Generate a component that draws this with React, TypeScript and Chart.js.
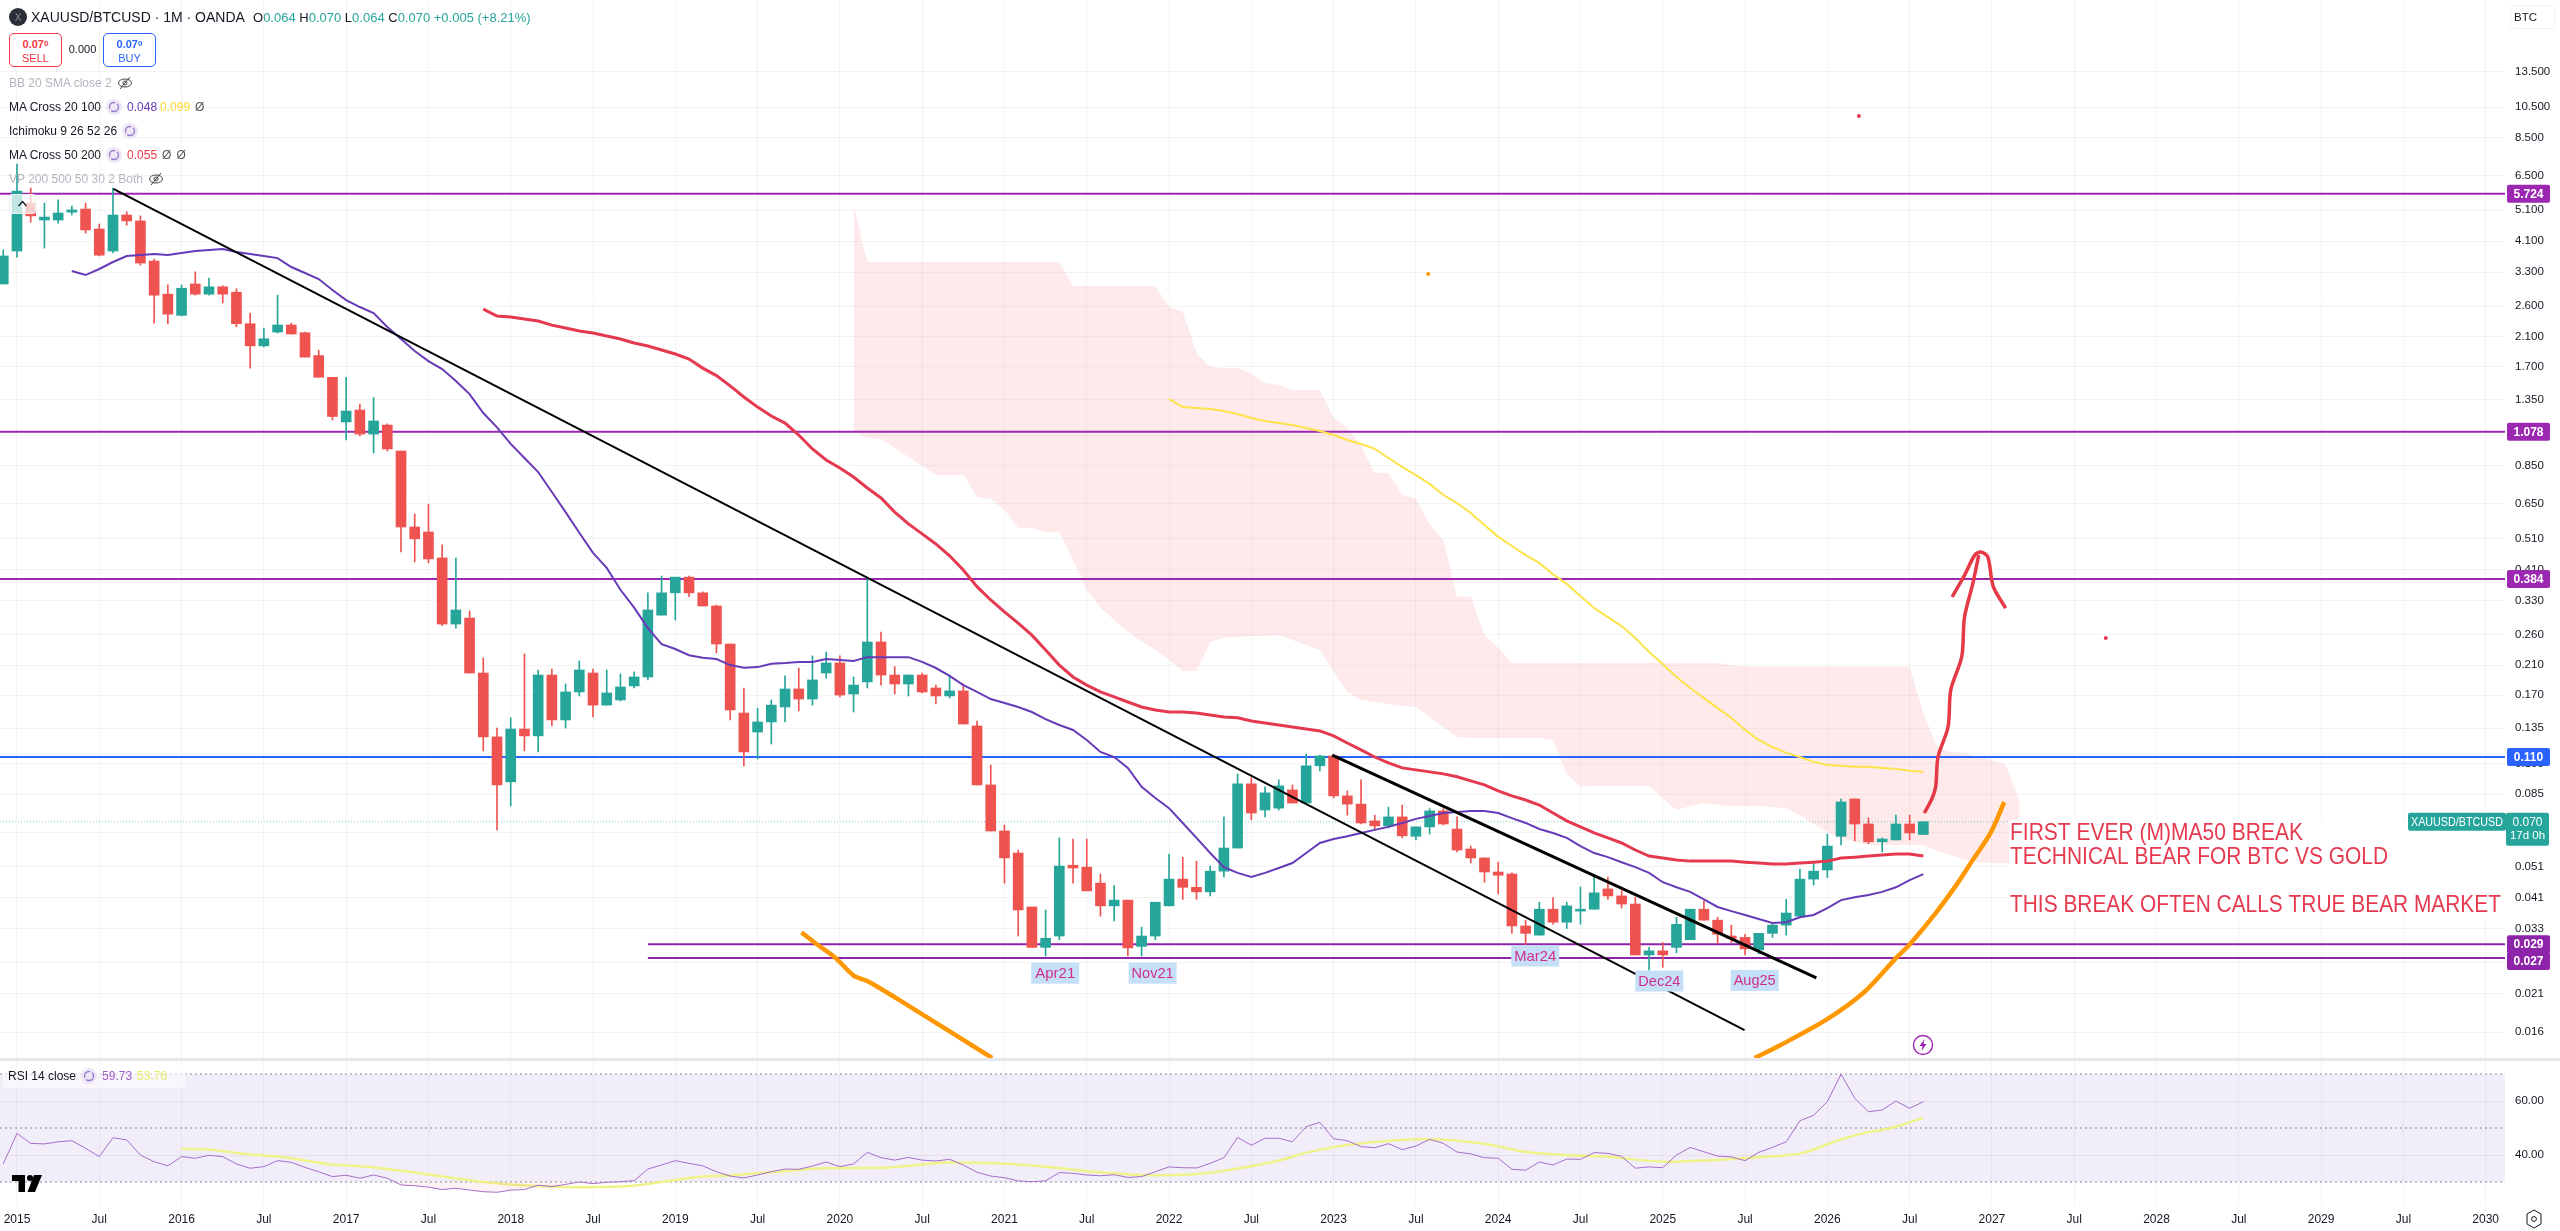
import React, { useEffect, useRef } from "react";
import { Chart, registerables } from "chart.js";

Chart.register(...registerables);

// Months are counted from January 2015 (0 = 2015-01).
const firstCandleMonth = -1;
const opens = [3.04,3.83,5.36,4.76,4.76,5.03,5.14,4.47,3.83,4.93,4.73,3.57,2.83,2.44,3.04,2.83,2.98,2.87,2.30,1.97,2.17,2.28,2.16,1.84,1.58,1.155,1.256,1.061,1.13,0.942,0.553,0.534,0.445,0.280,0.292,0.1986,0.1269,0.0926,0.1341,0.1278,0.1958,0.1429,0.1739,0.1986,0.1586,0.1644,0.1814,0.1932,0.298,0.3485,0.389,0.3485,0.3178,0.2434,0.15,0.1313,0.1409,0.1565,0.1776,0.1655,0.1986,0.2131,0.1714,0.1866,0.2469,0.1958,0.1839,0.1958,0.1788,0.1691,0.1752,0.137,0.0906,0.0656,0.0562,0.0385,0.029,0.0314,0.0516,0.0509,0.0455,0.0388,0.0404,0.0292,0.0314,0.0388,0.0468,0.0442,0.0428,0.0495,0.0582,0.0913,0.076,0.077,0.0875,0.0798,0.1036,0.111,0.0839,0.0792,0.0704,0.068,0.0724,0.0632,0.0675,0.0755,0.0665,0.0578,0.0543,0.0492,0.0485,0.0337,0.0316,0.0379,0.0346,0.0374,0.0379,0.0437,0.0416,0.0393,0.0275,0.0283,0.029,0.0306,0.0379,0.0351,0.0314,0.0311,0.0285,0.032,0.0339,0.0361,0.0468,0.0499,0.0632,0.0821,0.0689,0.0608,0.0616,0.0689,0.064];
const highs = [3.86,7.05,5.96,5.36,5.48,5.25,5.36,4.63,5.96,5.04,4.9,3.62,3.02,3.02,3.31,3.17,3.0,2.94,2.48,2.23,2.81,2.31,2.17,1.91,1.58,1.58,1.31,1.37,1.14,0.942,0.606,0.649,0.488,0.445,0.307,0.2207,0.1351,0.1451,0.227,0.2029,0.2043,0.1839,0.2162,0.2043,0.2029,0.1972,0.2001,0.3485,0.392,0.389,0.392,0.351,0.32,0.2434,0.1788,0.1553,0.1644,0.1946,0.2057,0.2239,0.2302,0.2239,0.1932,0.389,0.2648,0.2077,0.1958,0.1986,0.1825,0.1958,0.1839,0.1419,0.1042,0.0684,0.0574,0.0385,0.0377,0.0625,0.062,0.062,0.0485,0.0447,0.0404,0.0334,0.0398,0.0558,0.0546,0.0531,0.0513,0.0724,0.0979,0.0952,0.0894,0.0939,0.0906,0.1126,0.1117,0.1117,0.0869,0.0939,0.0733,0.0776,0.0787,0.0675,0.0767,0.0767,0.0724,0.059,0.0543,0.0527,0.0489,0.0351,0.0398,0.0411,0.0398,0.0443,0.0475,0.0475,0.0431,0.0412,0.029,0.03,0.0358,0.0379,0.0401,0.0358,0.0339,0.0318,0.032,0.0344,0.0406,0.0502,0.0524,0.0642,0.0821,0.0821,0.0719,0.0625,0.0733,0.0733,0.07];
const lows = [3.04,3.67,4.69,3.91,4.66,4.93,4.34,3.7,3.78,4.59,3.47,2.31,2.3,2.43,2.81,2.81,2.66,2.25,1.685,1.954,2.155,2.139,1.821,1.583,1.171,1.018,1.047,0.929,0.942,0.464,0.433,0.43,0.277,0.272,0.1986,0.115,0.0661,0.0782,0.115,0.1142,0.137,0.135,0.1691,0.146,0.1586,0.1633,0.1788,0.1892,0.298,0.288,0.339,0.3178,0.2286,0.1429,0.1036,0.1087,0.1207,0.1409,0.1522,0.1586,0.1917,0.1679,0.1511,0.1788,0.1825,0.1714,0.1691,0.1727,0.1598,0.1666,0.1389,0.0906,0.0656,0.0455,0.0314,0.029,0.0273,0.0306,0.0455,0.0431,0.0361,0.0349,0.0273,0.0273,0.0306,0.0388,0.0406,0.0406,0.0416,0.0475,0.0582,0.0709,0.0724,0.076,0.0798,0.0798,0.1,0.0827,0.0733,0.0689,0.0661,0.067,0.0625,0.0616,0.0642,0.0684,0.0566,0.0524,0.0458,0.0422,0.032,0.0296,0.0316,0.0341,0.0331,0.0341,0.0379,0.0406,0.0382,0.0275,0.0247,0.0252,0.0279,0.0306,0.0351,0.0298,0.03,0.0275,0.0277,0.0311,0.0316,0.0361,0.0449,0.0473,0.0595,0.0612,0.06,0.0566,0.0616,0.0616,0.064];
const closes = [3.7,5.83,4.9,4.86,5.0,5.11,4.44,3.72,4.93,4.73,3.52,2.81,2.46,2.95,2.83,2.98,2.83,2.3,1.97,2.07,2.28,2.14,1.82,1.58,1.2,1.247,1.061,1.163,0.956,0.553,0.509,0.442,0.28,0.309,0.1986,0.1269,0.0906,0.1341,0.1278,0.1958,0.1429,0.1739,0.2029,0.1586,0.1727,0.1801,0.1932,0.309,0.3485,0.389,0.3485,0.3178,0.2434,0.1533,0.1142,0.1409,0.1586,0.1776,0.1655,0.1892,0.2131,0.1702,0.1825,0.2469,0.1958,0.1839,0.1958,0.1739,0.1691,0.1752,0.1389,0.0906,0.0656,0.0543,0.0377,0.029,0.0309,0.0513,0.0506,0.0431,0.0388,0.0404,0.0289,0.0314,0.0398,0.0468,0.0442,0.0428,0.0495,0.0582,0.0913,0.0744,0.0857,0.09,0.0798,0.1036,0.111,0.0839,0.0792,0.0694,0.068,0.0724,0.0634,0.0675,0.0755,0.0689,0.0574,0.0543,0.0492,0.0481,0.0337,0.032,0.0379,0.0346,0.0388,0.0379,0.0425,0.0416,0.0393,0.0275,0.0283,0.0275,0.0341,0.0379,0.0351,0.0318,0.0309,0.0287,0.032,0.0339,0.0369,0.0468,0.0495,0.059,0.0804,0.0689,0.0608,0.062,0.0689,0.0647,0.07];

const ma20Start = 4;
const ma20 = [3.33,3.236,3.377,3.546,3.699,3.722,3.749,3.722,3.776,3.83,3.857,3.886,3.803,3.749,3.699,3.645,3.424,3.283,3.148,2.914,2.716,2.586,2.479,2.248,2.067,1.9,1.77,1.674,1.539,1.404,1.23,1.112,0.99,0.897,0.813,0.707,0.614,0.531,0.461,0.415,0.356,0.314,0.272,0.243,0.235,0.225,0.221,0.219,0.21,0.206,0.207,0.212,0.213,0.2147,0.2147,0.219,0.2177,0.2162,0.222,0.222,0.222,0.222,0.2147,0.2057,0.1946,0.1825,0.1739,0.1655,0.161,0.1565,0.1511,0.1438,0.1379,0.1332,0.1242,0.1142,0.1102,0.1021,0.0894,0.0827,0.077,0.0694,0.0625,0.0562,0.0509,0.0489,0.0475,0.0489,0.0506,0.0524,0.0562,0.0603,0.062,0.0632,0.0647,0.0661,0.0675,0.0694,0.0714,0.0729,0.0744,0.0749,0.0755,0.0755,0.0744,0.0718,0.0694,0.0665,0.0647,0.0625,0.059,0.0562,0.0546,0.0527,0.0509,0.0489,0.0458,0.0442,0.0428,0.0406,0.0385,0.0374,0.0364,0.0354,0.0344,0.0346,0.0358,0.0364,0.0382,0.0404,0.0412,0.0419,0.0428,0.0442,0.0465,0.0485];
const ma50Start = 34;
const ma50 = [2.549,2.428,2.411,2.377,2.345,2.278,2.231,2.186,2.155,2.11,2.067,2.01,1.968,1.913,1.86,1.796,1.685,1.599,1.488,1.376,1.282,1.204,1.146,1.054,0.956,0.885,0.836,0.785,0.727,0.678,0.614,0.565,0.527,0.491,0.452,0.409,0.364,0.3314,0.305,0.282,0.259,0.2335,0.21,0.1932,0.1825,0.1739,0.1679,0.1621,0.1565,0.1533,0.1511,0.1511,0.15,0.1479,0.146,0.1451,0.1419,0.1399,0.1379,0.136,0.1341,0.1323,0.1278,0.1216,0.1158,0.1102,0.1057,0.1021,0.1007,0.0993,0.0979,0.0959,0.0932,0.0906,0.0869,0.0839,0.0815,0.0787,0.0744,0.0704,0.0675,0.0647,0.0625,0.0603,0.0574,0.055,0.0543,0.0535,0.0531,0.0531,0.0531,0.0531,0.0527,0.0524,0.052,0.052,0.0524,0.0527,0.0531,0.0543,0.0546,0.055,0.0554,0.0558,0.0558,0.055];
const ma100Start = 84;
const ma100 = [1.357,1.282,1.273,1.265,1.247,1.221,1.187,1.163,1.146,1.13,1.107,1.084,1.054,1.018,0.99,0.956,0.897,0.843,0.796,0.748,0.692,0.654,0.61,0.561,0.516,0.484,0.454,0.43,0.397,0.371,0.341,0.3132,0.294,0.276,0.254,0.2302,0.2116,0.1932,0.1788,0.1666,0.1553,0.1451,0.1332,0.1242,0.1182,0.1134,0.1102,0.1065,0.1042,0.1036,0.1029,0.1029,0.1021,0.1014,0.1,0.0993];

const cloudStart = 61;
const cloudTop = [5.285,3.546,3.546,3.546,3.546,3.546,3.546,3.546,3.546,3.546,3.546,3.546,3.546,3.546,3.546,3.546,2.998,2.998,2.998,2.998,2.998,2.998,2.998,2.586,2.498,1.873,1.702,1.685,1.685,1.616,1.517,1.496,1.445,1.445,1.445,1.187,1.107,0.976,0.808,0.808,0.693,0.674,0.564,0.505,0.339,0.339,0.259,0.237,0.2131,0.2131,0.2131,0.2131,0.2131,0.2131,0.2131,0.2131,0.2131,0.2131,0.2131,0.2131,0.2131,0.2131,0.2131,0.2131,0.21,0.2077,0.2077,0.2077,0.2077,0.2077,0.2077,0.2077,0.2077,0.2077,0.2077,0.2077,0.2077,0.2077,0.15,0.1182,0.1142,0.1134,0.1102,0.108,0.1042,0.0815];
const cloudBottom = [1.084,1.032,1.025,0.963,0.903,0.849,0.796,0.796,0.796,0.683,0.673,0.623,0.549,0.549,0.534,0.534,0.439,0.356,0.3132,0.288,0.2648,0.2487,0.2335,0.2177,0.2015,0.2015,0.2469,0.2546,0.2557,0.2575,0.2575,0.2592,0.2504,0.2417,0.2335,0.2001,0.1739,0.1644,0.1621,0.1598,0.1576,0.1565,0.146,0.136,0.1269,0.126,0.126,0.126,0.126,0.126,0.126,0.1242,0.0979,0.0894,0.09,0.09,0.09,0.09,0.09,0.0827,0.076,0.0782,0.0798,0.0787,0.0782,0.0782,0.0782,0.0776,0.077,0.0733,0.0689,0.0652,0.0625,0.0608,0.0595,0.0595,0.0595,0.0595,0.0595,0.057,0.0554,0.0535,0.0527,0.0524,0.0524,0.0524];

const rsiStart = -1;
const rsi = [36.7,48.0,44.3,44.1,44.9,45.3,42.5,39.4,46.4,45.6,40.0,37.5,36.0,39.4,38.8,39.9,39.4,36.7,35.1,35.7,37.9,37.3,35.4,33.8,32.0,32.5,31.4,32.6,31.4,28.9,28.6,28.1,27.2,27.7,27.0,26.4,26.2,27.0,27.2,28.8,28.3,29.1,30.0,29.4,29.9,30.1,30.5,34.8,36.3,37.9,36.9,36.0,33.8,32.2,31.5,32.6,33.8,34.8,34.7,35.9,37.4,35.7,36.7,41.0,39.0,38.1,39.1,38.1,37.8,38.4,36.3,33.6,32.2,31.6,30.4,30.1,30.4,33.5,33.2,32.6,32.3,32.7,31.7,32.0,33.8,35.6,35.3,35.2,36.9,39.0,46.5,43.6,46.2,46.2,44.9,50.5,52.1,46.0,45.3,43.1,42.7,44.2,42.0,43.3,45.8,44.3,41.1,40.4,39.0,38.8,34.7,34.4,37.4,36.3,38.5,38.4,40.9,40.6,39.5,35.1,35.6,35.3,40.0,42.8,41.2,39.6,39.3,37.9,41.0,42.8,44.9,52.7,54.7,59.8,69.9,61.0,56.0,56.7,60.0,57.3,59.73];
const rsiMaMonths = [12,14.2,16.6,19.6,22.6,26.1,29.7,33.9,36.8,40.4,44,46.3,49.3,52.3,55.3,58.8,63.6,67.8,71.3,74.9,78.5,82,85.6,88,92,93.8,96.2,99.2,102.2,105.1,107.5,109.9,112.9,115.8,120,123.6,127.7,130.1,132.5,134.3,136.7,139];
const rsiMaValues = [42.3,41.9,40.4,39.1,36.7,35.4,33.0,30.1,28.8,28.1,28.3,29.5,31.7,32.6,33.8,35.1,35.4,37.2,36.9,35.7,33.8,32.6,32.8,34.2,37.9,40.6,43.1,44.9,45.8,45.3,43.7,41.2,40,39.4,37.5,38.1,39.4,40.6,44.9,47.7,50.1,53.76];

const priceTicks = [13.5,10.5,8.5,6.5,5.1,4.1,3.3,2.6,2.1,1.7,1.35,1.05,0.85,0.65,0.51,0.41,0.33,0.26,0.21,0.17,0.135,0.105,0.085,0.065,0.051,0.041,0.033,0.026,0.021,0.016];
const rsiTicks = [60,40];
const monthTicks = [0,6,12,18,24,30,36,42,48,54,60,66,72,78,84,90,96,102,108,114,120,126,132,138,144,150,156,162,168,174,180];

const axisMonths = [-1.239, 181.41];
const priceRange = [0.01335, 22.27];
const rsiRange = [21.48, 75.93];

const fullLevels = [5.724, 1.078, 0.384];
const blueLevel = 0.1102;
const lowLevels = [0.02965, 0.0269];
const lowLevelMonths = [46, 181.41];
const lastPrice = 0.07;

const longTrendMonths = [7.03, 125.96];
const longTrendValues = [5.92, 0.01624];
const shortTrendMonths = [95.9, 131.2];
const shortTrendValues = [0.1117, 0.0234];

const orangeLeftMonths = [57.2,58.2,59.7,61,62.1,64.2,71.1];
const orangeLeftValues = [0.0322,0.0299,0.0269,0.0238,0.0228,0.0202,0.01335];
const orangeRightMonths = [126.7,128.6,131.9,134.7,137,138,139.9,141.5,142.6,143.9,144.9];
const orangeRightValues = [0.01335,0.01463,0.01743,0.0212,0.0269,0.0296,0.0369,0.0455,0.0535,0.0647,0.0804];
const arrowStemMonths = [139.07,139.65,139.9,140.07,140.8,141,141.8,142,142.6,143.04];
const arrowStemValues = [0.0744,0.0827,0.0894,0.1102,0.136,0.1764,0.2227,0.2936,0.371,0.454];
const arrowHeadMonths = [141.1,142,142.75,143.2,143.7,144.1,145];
const arrowHeadValues = [0.339,0.394,0.454,0.464,0.448,0.364,0.3132];

const dotMonths = [134.3, 102.9, 152.3];
const dotValues = [9.87, 3.259, 0.2538];
const dotColors = ["#e53950", "#ff9800", "#e53950"];

const pivotLabels = ["Apr21", "Nov21", "Mar24", "Dec24", "Aug25"];
const pivotMonths = [75.7, 82.8, 110.7, 119.75, 126.7];
const pivotValues = [0.0242, 0.0242, 0.0273, 0.0229, 0.023];

const priceTags = ["5.724", "1.078", "0.384", "0.110", "0.029", "0.027"];
const priceTagValues = [5.724, 1.078, 0.384, 0.1102, 0.02965, 0.0269];
const priceTagShift = [0, 0, 0, 0, 0, 3];
const priceTagColors = ["#9c27b0", "#9c27b0", "#9c27b0", "#2962ff", "#8e24aa", "#8e24aa"];

const noteLines = ["FIRST EVER (M)MA50 BREAK", "TECHNICAL BEAR FOR BTC VS GOLD", "THIS BREAK OFTEN CALLS TRUE BEAR MARKET"];

const UP = "#26a69a";
const DOWN = "#ef5350";
const FONT = '"Liberation Sans", Arial, sans-serif';

const pts = (xs: number[], ys: number[]) => xs.map((x, k) => ({ x, y: ys[k] }));
const seq = (start: number, n: number) => Array.from({ length: n }, (_, k) => start + k);

function line(label: string, xs: number[], ys: number[], color: string, width: number, order: number, extra: any = {}) {
  return {
    type: "line" as const,
    label,
    data: pts(xs, ys),
    borderColor: color,
    backgroundColor: color,
    borderWidth: width,
    pointRadius: 0,
    fill: false,
    tension: 0,
    order,
    yAxisID: "y",
    ...extra,
  };
}

function candleSets() {
  const idx = opens.map((_, k) => k);
  const up = idx.filter((k) => closes[k] >= opens[k]);
  const down = idx.filter((k) => closes[k] < opens[k]);
  const month = (k: number) => firstCandleMonth + k;
  const bar = (label: string, list: number[], color: string, thick: number, low: number[], high: number[], order: number) => ({
    type: "bar" as const,
    label,
    data: list.map((k) => ({ x: month(k), y: [low[k], high[k]] })),
    backgroundColor: color,
    borderWidth: 0,
    barThickness: thick,
    grouped: false,
    minBarLength: 1,
    order,
    yAxisID: "y",
  });
  const bodyLow = closes.map((c, k) => Math.min(c, opens[k]));
  const bodyHigh = closes.map((c, k) => Math.max(c, opens[k]));
  return [
    bar("up wick", up, UP, 1, lows, highs, 11),
    bar("down wick", down, DOWN, 1, lows, highs, 11),
    bar("up body", up, UP, 10, bodyLow, bodyHigh, 10),
    bar("down body", down, DOWN, 10, bodyLow, bodyHigh, 10),
  ];
}

const decorPlugin = {
  id: "paneDecor",
  afterDatasetsDraw(chart: any) {
    const { ctx, scales } = chart;
    const x = scales.x;
    const y = scales.y;
    const right = chart.chartArea.right;
    ctx.save();

    // pane separator
    ctx.fillStyle = "#e6e7ec";
    ctx.fillRect(0, y.bottom, chart.width, 3);

    // note with its white background
    ctx.fillStyle = "#ffffff";
    ctx.fillRect(2009, 820, 495, 96);
    ctx.fillStyle = "#e5394f";
    ctx.font = `24px ${FONT}`;
    ctx.textBaseline = "alphabetic";
    ctx.textAlign = "left";
    ctx.fillText(noteLines[0], 2010, 840, 293);
    ctx.fillText(noteLines[1], 2010, 864, 378);
    ctx.fillText(noteLines[2], 2010, 912, 491);

    // pivot date labels
    pivotLabels.forEach((t, k) => {
      const px = x.getPixelForValue(pivotMonths[k]);
      const py = y.getPixelForValue(pivotValues[k]);
      ctx.fillStyle = "#c5dff7";
      ctx.fillRect(px - 24, py - 10.5, 48, 21);
      ctx.fillStyle = "#d0308a";
      ctx.font = `15px ${FONT}`;
      ctx.textAlign = "center";
      ctx.textBaseline = "middle";
      ctx.fillText(t, px, py + 0.5, 42);
    });

    // price tags on the axis
    ctx.textBaseline = "middle";
    ctx.textAlign = "center";
    priceTags.forEach((t, k) => {
      const py = y.getPixelForValue(priceTagValues[k]) + priceTagShift[k];
      ctx.fillStyle = priceTagColors[k];
      ctx.beginPath();
      ctx.roundRect(right + 2, py - 9, 43, 18, 2);
      ctx.fill();
      ctx.fillStyle = "#ffffff";
      ctx.font = `bold 12px ${FONT}`;
      ctx.fillText(t, right + 23.5, py + 0.5);
    });

    // last-price tags
    const ly = y.getPixelForValue(lastPrice);
    ctx.fillStyle = UP;
    ctx.beginPath();
    ctx.roundRect(right - 97, ly - 9, 98, 18, 2);
    ctx.fill();
    ctx.beginPath();
    ctx.roundRect(right + 1, ly - 9, 43, 33, 2);
    ctx.fill();
    ctx.fillStyle = "#ffffff";
    ctx.font = `12px ${FONT}`;
    ctx.fillText("XAUUSD/BTCUSD", right - 48, ly + 0.5, 92);
    ctx.fillText("0.070", right + 22.5, ly + 0.5);
    ctx.font = `11.5px ${FONT}`;
    ctx.fillText("17d 0h", right + 22.5, ly + 14.5, 38);
    ctx.restore();
  },
};

function Legend() {
  const row = (top: number, color = "#131722"): React.CSSProperties => ({
    position: "absolute",
    left: 9,
    top: top - 8,
    height: 16,
    lineHeight: "16px",
    fontSize: 12,
    color,
    whiteSpace: "nowrap",
    display: "flex",
    alignItems: "center",
    gap: 5,
  });
  const spin = (
    <svg width="16" height="16" viewBox="0 0 16 16">
      <circle cx="8" cy="8" r="8" fill="#ede7f6" />
      <circle cx="8" cy="8" r="4.5" fill="none" stroke="#9575cd" strokeWidth="1.3" strokeDasharray="10 2" />
    </svg>
  );
  const eye = (
    <svg width="16" height="14" viewBox="0 0 16 14">
      <ellipse cx="8" cy="7" rx="6.5" ry="4" fill="none" stroke="#444" strokeWidth="1" />
      <circle cx="8" cy="7" r="2" fill="none" stroke="#444" strokeWidth="1" />
      <line x1="3" y1="13" x2="13" y2="1" stroke="#444" strokeWidth="1" />
    </svg>
  );
  const box = (left: number, color: string): React.CSSProperties => ({
    position: "absolute",
    left,
    top: 33,
    width: 53,
    height: 34,
    border: `1px solid ${color}`,
    borderRadius: 5,
    color,
    textAlign: "center",
    fontSize: 11,
    lineHeight: "14px",
    background: "#fff",
    boxSizing: "border-box",
    paddingTop: 3,
  });
  return (
    <div style={{ position: "absolute", left: 0, top: 0, fontFamily: FONT }}>
      <svg style={{ position: "absolute", left: 9, top: 8 }} width="18" height="18" viewBox="0 0 18 18">
        <circle cx="9" cy="9" r="9" fill="#2a2e39" />
        <text x="9" y="12.5" textAnchor="middle" fontSize="10" fill="#8a8e99" fontFamily={FONT}>X</text>
      </svg>
      <div style={{ position: "absolute", left: 31, top: 9, fontSize: 14, lineHeight: "17px", color: "#131722", whiteSpace: "nowrap" }}>
        XAUUSD/BTCUSD · 1M · OANDA
      </div>
      <div style={{ position: "absolute", left: 253, top: 9, fontSize: 13, lineHeight: "17px", color: UP, whiteSpace: "nowrap" }}>
        <span style={{ color: "#131722" }}>O</span>0.064 <span style={{ color: "#131722" }}>H</span>0.070{" "}
        <span style={{ color: "#131722" }}>L</span>0.064 <span style={{ color: "#131722" }}>C</span>0.070 +0.005 (+8.21%)
      </div>
      <div style={box(9, "#f23645")}>
        <b>0.07<span style={{ fontSize: 8, verticalAlign: 2 }}>0</span></b>
        <br />SELL
      </div>
      <div style={{ position: "absolute", left: 62, width: 41, top: 43, textAlign: "center", fontSize: 11, color: "#131722" }}>0.000</div>
      <div style={box(103, "#2962ff")}>
        <b>0.07<span style={{ fontSize: 8, verticalAlign: 2 }}>0</span></b>
        <br />BUY
      </div>
      <div style={row(83, "#b2b5be")}>BB 20 SMA close 2 {eye}</div>
      <div style={row(107)}>
        MA Cross 20 100 {spin}
        <span style={{ color: "#673ab7" }}>0.048</span>
        <span style={{ color: "#fdd835", marginLeft: -2 }}>0.099</span>
        <span style={{ color: "#555" }}>Ø</span>
      </div>
      <div style={row(131)}>Ichimoku 9 26 52 26 {spin}</div>
      <div style={row(155)}>
        MA Cross 50 200 {spin}
        <span style={{ color: "#f23645" }}>0.055</span>
        <span style={{ color: "#555" }}>Ø</span>
        <span style={{ color: "#555" }}>Ø</span>
      </div>
      <div style={row(179, "#b2b5be")}>VP 200 500 50 30 2 Both {eye}</div>
      <div style={{ position: "absolute", left: 9, top: 194, width: 27, height: 20, border: "1px solid #eceef2", borderRadius: 3, background: "rgba(255,255,255,0.72)", boxSizing: "border-box" }}>
        <svg width="25" height="18" viewBox="0 0 25 18">
          <path d="M8.5 11 L12.5 6.5 L16.5 11" fill="none" stroke="#131722" strokeWidth="1.3" />
        </svg>
      </div>

      <div style={{ position: "absolute", left: 3, top: 1066, width: 183, height: 22, background: "rgba(255,255,255,0.55)", borderRadius: 3 }} />
      <div style={{ position: "absolute", left: 8, top: 1068, height: 16, lineHeight: "16px", fontSize: 12, color: "#131722", whiteSpace: "nowrap", display: "flex", alignItems: "center", gap: 5 }}>
        RSI 14 close {spin}
        <span style={{ color: "#a25ac7" }}>59.73</span>
        <span style={{ color: "#e6ee6a" }}>53.76</span>
      </div>

      <div style={{ position: "absolute", left: 2510, top: 5, width: 45, height: 24, border: "1px solid #f0f3fa", borderRadius: 3, boxSizing: "border-box", textAlign: "left", paddingLeft: 3, fontSize: 11.5, lineHeight: "22px", color: "#131722" }}>
        BTC
      </div>

      <svg style={{ position: "absolute", left: 1912, top: 1034 }} width="22" height="22" viewBox="0 0 22 22">
        <circle cx="11" cy="11" r="9.5" fill="#fff" stroke="#9c27b0" strokeWidth="1.4" />
        <path d="M12.5 5 L7.5 12 L10.5 12 L9.5 17 L14.5 10 L11.5 10 Z" fill="#9c27b0" />
      </svg>
      <svg style={{ position: "absolute", left: 12, top: 1175 }} width="30" height="17" viewBox="0 0 30 17">
        <path d="M0 0 H13 V17 H6.5 V6 H0 Z" fill="#000" />
        <circle cx="18" cy="3" r="3" fill="#000" />
        <path d="M22 0 H30 L23 17 H15.5 Z" fill="#000" />
      </svg>
      <svg style={{ position: "absolute", left: 2525, top: 1209 }} width="18" height="20" viewBox="0 0 18 20">
        <path d="M9 1 L16 5 V15 L9 19 L2 15 V5 Z" fill="none" stroke="#131722" strokeWidth="1" />
        <circle cx="9" cy="10" r="2.4" fill="none" stroke="#131722" strokeWidth="1" />
      </svg>
    </div>
  );
}

export default function App() {
  const ref = useRef<HTMLCanvasElement | null>(null);

  useEffect(() => {
    const canvas = ref.current as HTMLCanvasElement;
    const end = axisMonths[1];
    const start = axisMonths[0];
    const levelSets = fullLevels.map((v) =>
      line(`level ${v}`, axisMonths, [v, v], "#9c27b0", 2, 15)
    );
    const chart = new Chart(canvas, {
      type: "bar",
      data: {
        datasets: [
          line("cloud top", seq(cloudStart, cloudTop.length), cloudTop, "rgba(0,0,0,0)", 0, 20, {
            fill: "+1",
            backgroundColor: "rgba(242,54,69,0.105)",
          }),
          line("cloud bottom", seq(cloudStart, cloudBottom.length), cloudBottom, "rgba(0,0,0,0)", 0, 21),
          ...levelSets,
          line("level 0.110", axisMonths, [blueLevel, blueLevel], "#2962ff", 2, 15),
          line("level 0.029", lowLevelMonths, [lowLevels[0], lowLevels[0]], "#8e24aa", 2, 15),
          line("level 0.027", lowLevelMonths, [lowLevels[1], lowLevels[1]], "#8e24aa", 2, 15),
          line("last price", [start, end], [lastPrice, lastPrice], "rgba(38,166,154,0.6)", 1, 14, { borderDash: [1, 2] }),
          ...candleSets(),
          line("MA20", seq(ma20Start, ma20.length), ma20, "#673ab7", 2, 5),
          line("MA50", seq(ma50Start, ma50.length), ma50, "#e53950", 3, 5),
          line("MA100", seq(ma100Start, ma100.length), ma100, "#fde34a", 2, 5),
          line("long trend", longTrendMonths, longTrendValues, "#000000", 2, 3),
          line("short trend", shortTrendMonths, shortTrendValues, "#000000", 3, 3),
          line("orange left", orangeLeftMonths, orangeLeftValues, "#ff9800", 4.5, 2, { tension: 0.3 }),
          line("orange right", orangeRightMonths, orangeRightValues, "#ff9800", 4.5, 2, { tension: 0.3 }),
          line("arrow stem", arrowStemMonths, arrowStemValues, "#e53946", 3.5, 2, { tension: 0.3 }),
          line("arrow head", arrowHeadMonths, arrowHeadValues, "#e53946", 3.5, 2, { tension: 0.3 }),
          {
            type: "scatter" as const,
            label: "dots",
            data: pts(dotMonths, dotValues),
            pointRadius: 2,
            pointBackgroundColor: dotColors,
            pointBorderWidth: 0,
            order: 2,
            yAxisID: "y",
          },
          line("rsi band", axisMonths, [70, 70], "#8a8d96", 1, 9, {
            yAxisID: "yRsi",
            borderDash: [2, 3],
            fill: { value: 30 },
            backgroundColor: "rgba(126,87,194,0.1)",
          }),
          line("rsi mid", axisMonths, [50, 50], "#8a8d96", 1, 9, { yAxisID: "yRsi", borderDash: [2, 3] }),
          line("rsi low", axisMonths, [30, 30], "#8a8d96", 1, 9, { yAxisID: "yRsi", borderDash: [2, 3] }),
          line("RSI MA", rsiMaMonths, rsiMaValues, "#eef38a", 2.5, 4, { yAxisID: "yRsi", tension: 0.3 }),
          line("RSI", seq(rsiStart, rsi.length), rsi, "#a76cc9", 1, 3, {
            yAxisID: "yRsi",
            fill: { target: { value: 30 }, above: "rgba(0,0,0,0)", below: "rgba(242,54,69,0.06)" },
          }),
        ] as any,
      },
      options: {
        animation: false,
        responsive: false,
        devicePixelRatio: 1,
        layout: { padding: 0, autoPadding: false },
        events: [],
        plugins: { legend: { display: false }, tooltip: { enabled: false }, title: { display: false } },
        scales: {
          x: {
            type: "linear",
            min: axisMonths[0],
            max: axisMonths[1],
            offset: false,
            grid: { color: "rgba(42,46,57,0.055)", offset: false, drawTicks: false } as any,
            border: { display: false },
            afterBuildTicks: (s: any) => {
              s.ticks = monthTicks.map((value) => ({ value }));
            },
            afterFit: (s: any) => {
              s.height = 26;
              s.paddingLeft = 0;
              s.paddingRight = 0;
            },
            ticks: {
              autoSkip: false,
              maxRotation: 0,
              padding: 7,
              color: "#131722",
              font: { family: FONT, size: 12 },
              callback: (v: any) => (v % 12 === 0 ? String(2015 + v / 12) : "Jul"),
            },
          },
          y: {
            type: "logarithmic",
            position: "right",
            stack: "panes",
            stackWeight: 1058,
            weight: 0,
            min: priceRange[0],
            max: priceRange[1],
            grid: { color: "rgba(42,46,57,0.05)", drawTicks: false },
            border: { display: false },
            afterBuildTicks: (s: any) => {
              s.ticks = priceTicks.map((value) => ({ value }));
            },
            afterFit: (s: any) => {
              s.width = 55;
              s.paddingTop = 0;
              s.paddingBottom = 0;
            },
            ticks: {
              autoSkip: false,
              padding: 10,
              color: "#131722",
              font: { family: FONT, size: 11.5 },
              callback: (v: any) => Number(v).toFixed(3),
            },
          },
          yRsi: {
            type: "linear",
            position: "right",
            stack: "panes",
            stackWeight: 147,
            weight: 1,
            min: rsiRange[0],
            max: rsiRange[1],
            grid: { color: "rgba(42,46,57,0.07)", drawTicks: false },
            border: { display: false },
            afterBuildTicks: (s: any) => {
              s.ticks = rsiTicks.map((value) => ({ value }));
            },
            afterFit: (s: any) => {
              s.width = 55;
              s.paddingTop = 0;
              s.paddingBottom = 0;
            },
            ticks: {
              autoSkip: false,
              padding: 10,
              color: "#131722",
              font: { family: FONT, size: 11.5 },
              callback: (v: any) => Number(v).toFixed(2),
            },
          },
        },
      } as any,
      plugins: [decorPlugin],
    } as any);
    return () => chart.destroy();
  }, []);

  return (
    <div style={{ position: "fixed", left: 0, top: 0, width: 2560, height: 1231, background: "#fff", overflow: "hidden" }}>
      <canvas ref={ref} width={2560} height={1231} style={{ position: "absolute", left: 0, top: 0, width: 2560, height: 1231 }} />
      <Legend />
    </div>
  );
}
